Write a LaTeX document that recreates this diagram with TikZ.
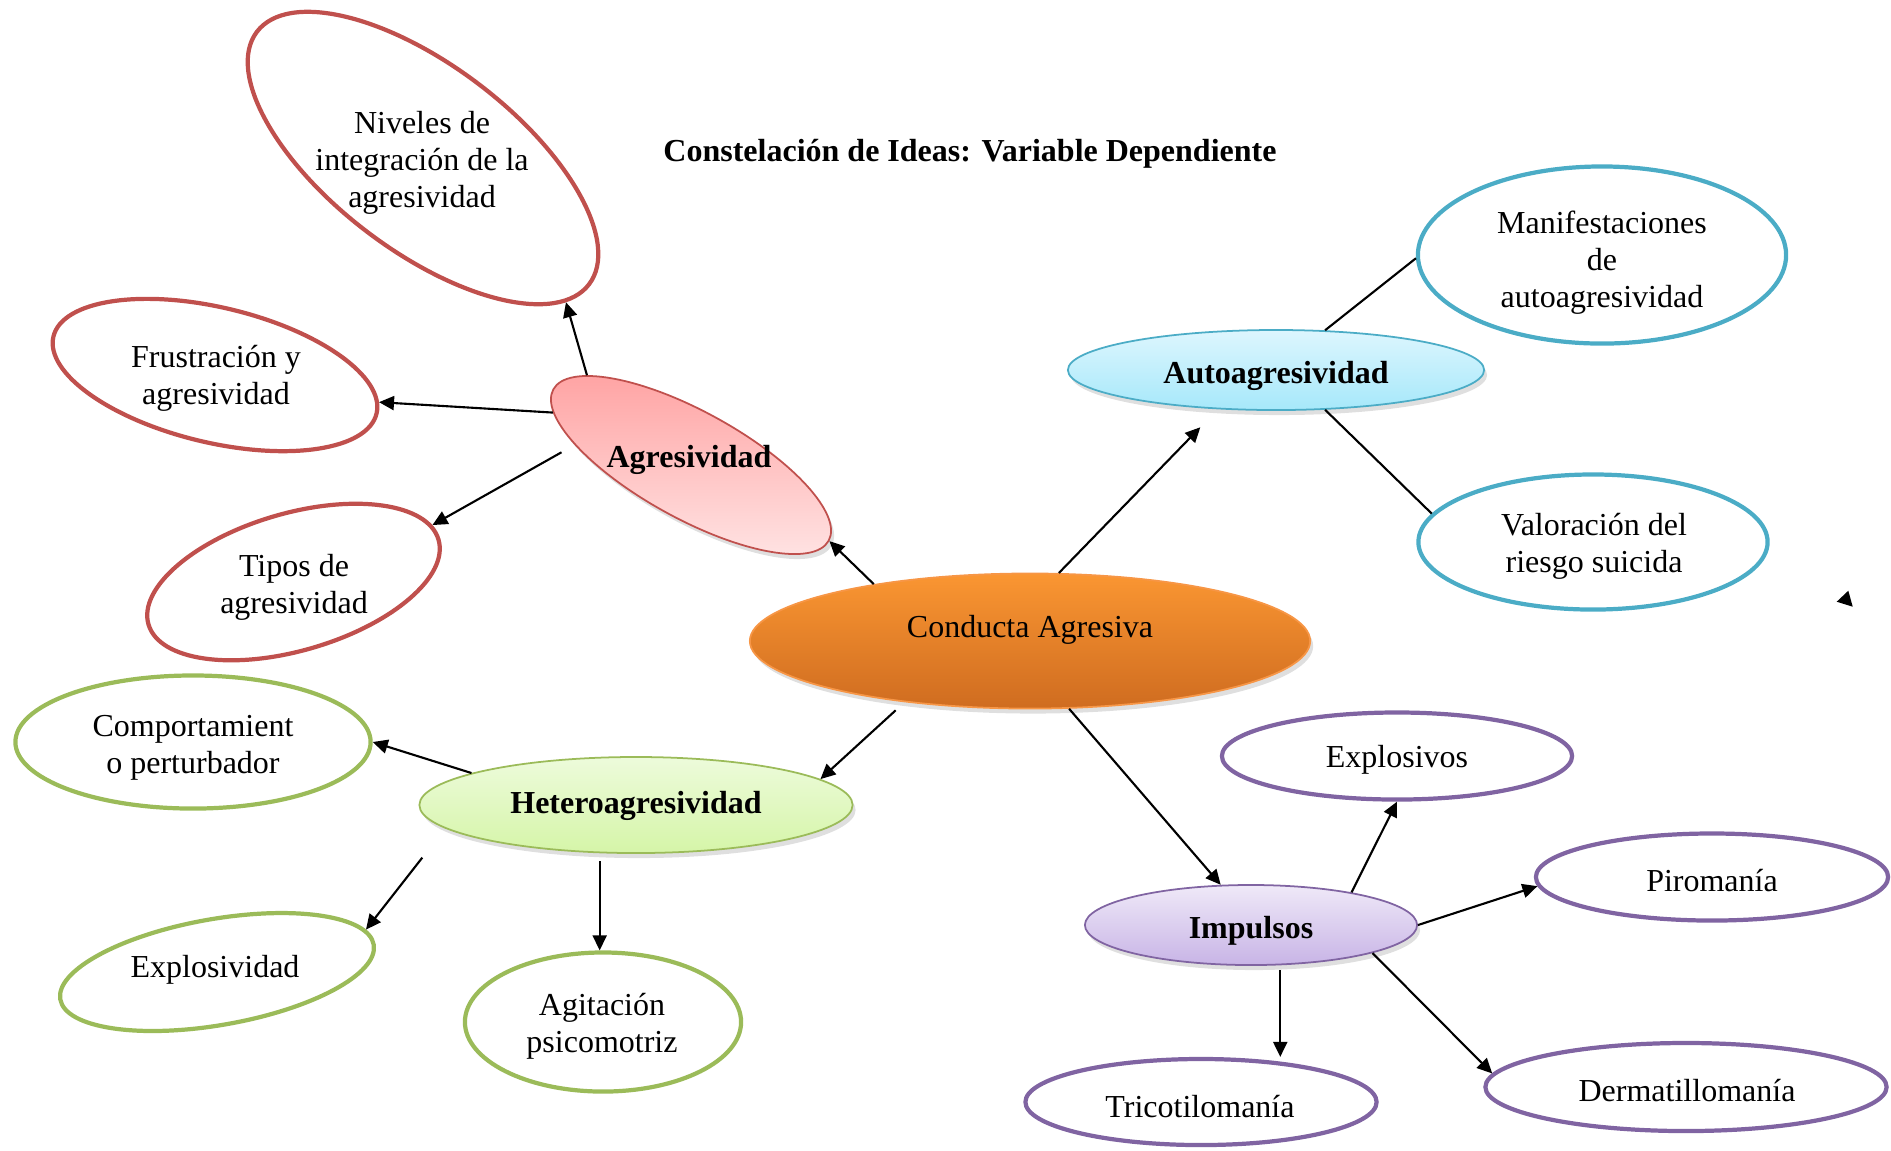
\documentclass[tikz,border=0pt]{standalone}
\usepackage{fontspec}
\setmainfont{Liberation Serif}
\usetikzlibrary{shapes,arrows.meta,shadows,calc}
\definecolor{rojo}{HTML}{C0504D}
\definecolor{verde}{HTML}{9BBB59}
\definecolor{azul}{HTML}{4BACC6}
\definecolor{morado}{HTML}{8064A2}
\definecolor{naranjaA}{HTML}{FA9632}
\definecolor{naranjaB}{HTML}{CF6C20}
\definecolor{naranjaL}{HTML}{F79646}
\definecolor{rosaA}{HTML}{FFA0A0}
\definecolor{rosaB}{HTML}{FFE6E6}
\definecolor{verdeA}{HTML}{EDFBDB}
\definecolor{verdeB}{HTML}{D5F5A8}
\definecolor{azulA}{HTML}{DDF6FE}
\definecolor{azulB}{HTML}{A6E8FA}
\definecolor{moradoA}{HTML}{EFE9F8}
\definecolor{moradoB}{HTML}{C8B4E6}
\tikzset{
  hub/.style={ellipse, inner sep=0pt, line width=0.5pt,
    drop shadow={opacity=0.25, shadow xshift=0.03cm, shadow yshift=-0.05cm}},
  leaf/.style={ellipse, inner sep=0pt, line width=1.2pt},
  txt/.style={font=\fontsize{9.1}{10.5}\selectfont, align=center, inner sep=0pt, yshift=-0.03cm},
  hubtxt/.style={txt, font=\fontsize{9.1}{10.5}\selectfont\bfseries},
  arr/.style={-{Triangle[length=0.15cm,width=0.14cm]}, line width=0.6pt},
  link/.style={line width=0.6pt}
}
\begin{document}
\begin{tikzpicture}[x=0.01cm,y=-0.01cm]
      \useasboundingbox (0,0) rectangle (1891,1150);

      \node[hub, top color=naranjaA, bottom color=naranjaB, draw=naranjaL, minimum width=5.6cm, minimum height=1.35cm] (conducta) at (1030,641) {};
      \node[hub, rotate=-28.8, top color=rosaA, bottom color=rosaB, draw=rojo, minimum width=3.14cm, minimum height=1.07cm] (agr) at (691,465) {};
      \node[hub, top color=verdeA, bottom color=verdeB, draw=verde, minimum width=4.33cm, minimum height=0.96cm] (hetero) at (636,805) {};
      \node[hub, top color=azulA, bottom color=azulB, draw=azul, minimum width=4.16cm, minimum height=0.8cm] (auto) at (1276,370) {};
      \node[hub, top color=moradoA, bottom color=moradoB, draw=morado, minimum width=3.32cm, minimum height=0.8cm] (impul) at (1251,925) {};

      \node[leaf, draw=rojo, rotate=-37.25, minimum width=4.17cm, minimum height=1.85cm] (niv) at (423,158) {};
      \node[leaf, draw=rojo, rotate=-13.4, minimum width=3.32cm, minimum height=1.35cm] (frus) at (215,375) {};
      \node[leaf, draw=rojo, rotate=16.3, minimum width=3.02cm, minimum height=1.37cm] (tipos) at (293.5,582) {};
      \node[leaf, draw=verde, minimum width=3.55cm, minimum height=1.33cm] (comp) at (193,742) {};
      \node[leaf, draw=verde, rotate=9.9, minimum width=3.18cm, minimum height=1.06cm] (explv) at (217,972) {};
      \node[leaf, draw=verde, minimum width=2.76cm, minimum height=1.39cm] (agit) at (603,1022) {};
      \node[leaf, draw=azul, minimum width=3.68cm, minimum height=1.77cm] (manif) at (1602,255) {};
      \node[leaf, draw=azul, minimum width=3.49cm, minimum height=1.35cm] (valor) at (1593,542) {};
      \node[leaf, draw=morado, minimum width=3.5cm, minimum height=0.87cm] (explo) at (1397,756) {};
      \node[leaf, draw=morado, minimum width=3.52cm, minimum height=0.87cm] (piro) at (1712,877) {};
      \node[leaf, draw=morado, minimum width=3.51cm, minimum height=0.86cm] (trico) at (1201,1102) {};
      \node[leaf, draw=morado, minimum width=4.01cm, minimum height=0.88cm] (derma) at (1686,1087) {};

      \draw[arr] (conducta.160) -- (agr.east);
      \draw[arr] (agr.168) -- (niv.-8);
      \draw[arr] (agr.188) -- (frus.4);
      \draw[arr, shorten <=0.15cm] (agr.199) -- (tipos.6);
      \draw[arr, shorten >=0.25cm] (conducta.67) -- (auto.214);
      \draw[link] (auto.39) -- (manif.181);
      \draw[link] (auto.-39) -- (valor.170);
      \draw[arr, shorten <=0.12cm] (conducta.206) -- (hetero.8);
      \draw[arr] (hetero.169) -- (comp.east);
      \draw[arr, shorten <=0.37cm] (hetero.187) -- (explv.6);
      \draw[arr, shorten <=0.08cm] (hetero.233) -- (hetero.233 |- agit.north);
      \draw[arr] (conducta.-60) -- (impul.127);
      \draw[arr] (impul.18) -- (explo.south);
      \draw[arr] (impul.east) -- (piro.183);
      \draw[arr, shorten <=0.05cm] (impul.-54) -- (impul.-54 |- trico.north);
      \draw[arr] (impul.-13) -- (derma.176);
      \fill (1836.7,601.7) -- (1848.3,590.7) -- (1852.7,606.7) -- cycle;

      \node[hubtxt] (titulo) at (970,151) {Constelación de Ideas: Variable Dependiente};
      \node[txt] (conducta-t) at (1030,627) {Conducta Agresiva};
      \node[hubtxt] (agr-t) at (689,457) {Agresividad};
      \node[hubtxt] (hetero-t) at (636,803) {Heteroagresividad};
      \node[hubtxt] (auto-t) at (1276,373) {Autoagresividad};
      \node[hubtxt] (impul-t) at (1251,928) {Impulsos};
      \node[txt] (niv-t) at (422,160) {Niveles de\\integración de la\\agresividad};
      \node[txt] (frus-t) at (216,375) {Frustración y\\agresividad};
      \node[txt] (tipos-t) at (294,584) {Tipos de\\agresividad};
      \node[txt] (comp-t) at (193,745) {Comportamient\\o perturbador};
      \node[txt] (explv-t) at (215,967) {Explosividad};
      \node[txt] (agit-t) at (602,1023) {Agitación\\psicomotriz};
      \node[txt] (manif-t) at (1602,260) {Manifestaciones\\de\\autoagresividad};
      \node[txt] (valor-t) at (1594,543) {Valoración del\\riesgo suicida};
      \node[txt] (explo-t) at (1397,757) {Explosivos};
      \node[txt] (piro-t) at (1712,877) {Piromanía};
      \node[txt] (trico-t) at (1200,1103) {Tricotilomanía};
      \node[txt] (derma-t) at (1687,1087) {Dermatillomanía};
    \end{tikzpicture}
\end{document}
